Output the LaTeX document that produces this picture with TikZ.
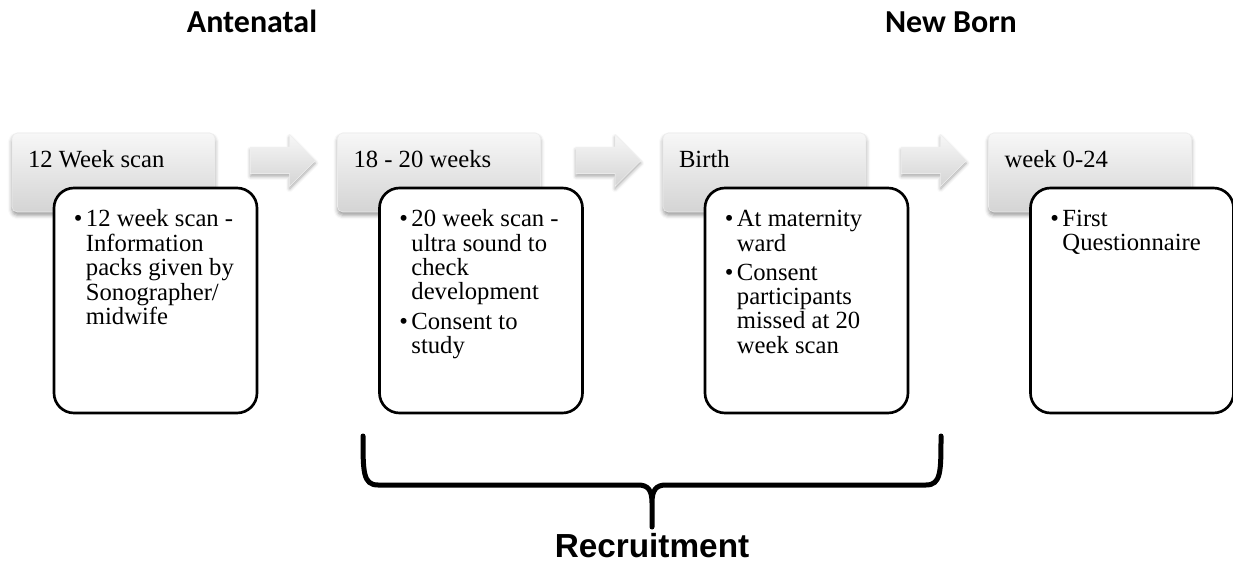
\documentclass[tikz,border=0pt]{standalone}
\usepackage{fontspec}
\setmainfont{Liberation Serif}
\newfontfamily\titlefont{Carlito}
\newfontfamily\bracefont{Liberation Sans}
\usepackage{tikz}
\usetikzlibrary{shadows.blur}
\usetikzlibrary{shapes.arrows}
\usetikzlibrary{calc}
\newdimen\stageW
\newdimen\stageH
\newdimen\noteW
\newdimen\noteH
\setlength{\stageW}{152.25pt}
\setlength{\stageH}{59.25pt}
\setlength{\noteW}{152.25pt}
\setlength{\noteH}{168.75pt}
\definecolor{stagetop}{HTML}{F7F7F7}
\definecolor{stagebot}{HTML}{D4D4D4}
\newcommand{\bul}{\makebox[9pt][l]{\textbullet}}

\tikzset{
  phase/.style={inner sep=0, anchor=base, font=\titlefont\bfseries\fontsize{24}{28}\selectfont},
  stage/.style={rounded corners=4pt, minimum width=\stageW, minimum height=\stageH,
    top color=stagetop, bottom color=stagebot, draw=black!8,
    blur shadow={shadow xshift=0pt, shadow yshift=-2.5pt, shadow blur radius=3pt, shadow opacity=40}},
  stagearrow/.style={single arrow, inner xsep=0, inner ysep=9.75pt, minimum height=48.75pt,
    minimum width=38.25pt, single arrow head extend=9.4pt,
    top color=stagetop, bottom color=stagebot, draw=black!6,
    blur shadow={shadow xshift=0pt, shadow yshift=-2pt, shadow blur radius=2.5pt, shadow opacity=35}},
  stagetext/.style={inner sep=0, anchor=base west, font=\fontsize{18.5}{18.2}\selectfont},
  note/.style={draw=black, line width=2pt, rounded corners=15pt, fill=white,
    minimum width=\noteW, minimum height=\noteH},
  notetext/.style={inner sep=0, anchor=base west, font=\fontsize{18.5}{18.2}\selectfont},
}

\begin{document}
\begin{tikzpicture}[x=0.75pt, y=-0.75pt]
  \useasboundingbox (0,0) rectangle (1233,563);
  % phases
  \node[phase] (antenatal) at (252,33) {Antenatal};
  \node[phase] (newborn) at (951,33) {New Born};
  % stages
  \node[stage] (s1) at (113.5,172.5) {};
  \node[stage] (s2) at (439,172.5) {};
  \node[stage] (s3) at (764.5,172.5) {};
  \node[stage] (s4) at (1090,172.5) {};
  \foreach \a/\b in {s1/s2,s2/s3,s3/s4}
    \node[stagearrow] (arr-\a) at ($(\a.east)!0.5!(\b.west)+(0,-12)$) {};
  \node[stagetext] (s1t) at ([shift={(16,-4.5)}]s1.west) {12 Week scan};
  \node[stagetext] (s2t) at ([shift={(16,-4.5)}]s2.west) {18 - 20 weeks};
  \node[stagetext] (s3t) at ([shift={(16,-4.5)}]s3.west) {Birth};
  \node[stagetext] (s4t) at ([shift={(16,-4.5)}]s4.west) {week 0-24};
  % notes
  \node[note] (n1) at (155.5,300.5) {};
  \node[note] (n2) at (481,300.5) {};
  \node[note] (n3) at (806.5,300.5) {};
  \node[note] (n4) at (1132,300.5) {};
  \node[notetext] (n1t) at ([shift={(21,40)}]n1.north west) {%
    \begin{tabular}[t]{@{}l@{}l@{}}
      \bul & 12 week scan -\\
           & Information\\
           & packs given by\\
           & Sonographer/\\
           & midwife
    \end{tabular}};
  \node[notetext] (n2t) at ([shift={(21,40)}]n2.north west) {%
    \begin{tabular}[t]{@{}l@{}l@{}}
      \bul & 20 week scan -\\
           & ultra sound to\\
           & check\\
           & development\\[3.75pt]
      \bul & Consent to\\
           & study
    \end{tabular}};
  \node[notetext] (n3t) at ([shift={(21,40)}]n3.north west) {%
    \begin{tabular}[t]{@{}l@{}l@{}}
      \bul & At maternity\\
           & ward\\[3.75pt]
      \bul & Consent\\
           & participants\\
           & missed at 20\\
           & week scan
    \end{tabular}};
  \node[notetext] (n4t) at ([shift={(21,40)}]n4.north west) {%
    \begin{tabular}[t]{@{}l@{}l@{}}
      \bul & First\\
           & Questionnaire
    \end{tabular}};
  % recruitment brace
  \coordinate (bl) at (363,436);
  \coordinate (br) at (941,436);
  \coordinate (tip) at (652,527);
  \draw[line width=3.75pt, line cap=round, line join=round]
    (bl) .. controls (363,472) and (363,485) .. (378,485) -- (638,485)
    .. controls (648,485) and (652,490) .. (652,503) -- (tip)
    (652,503) .. controls (652,490) and (656,485) .. (666,485) -- (926,485)
    .. controls (941,485) and (941,472) .. (br);
  \node[inner sep=0, anchor=base, font=\bracefont\bfseries\fontsize{25}{28}\selectfont]
    (recruit) at (652,557) {Recruitment};
\end{tikzpicture}
\end{document}
